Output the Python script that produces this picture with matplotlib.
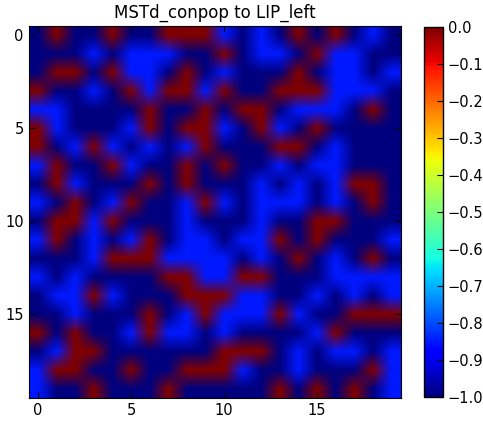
import numpy as np
import matplotlib
matplotlib.use('Agg')
import matplotlib.pyplot as plt

# niveis de peso: N = azul escuro, B = azul, R = vermelho
N, B, R = -1.0, -0.85, 0.0

titulo = 'MSTd_conpop to LIP_left'

linhas = [
    "NRNNRNNRRRBNBNRNRNBN",
    "NNNBNBBBNNRNBBNRBBNN",
    "NRRNRBBNRNBNNNRNBBNB",
    "RNNBNRBRRBRNNRRRBBBN",
    "BBNNNNRNNRNRRNBBBNRN",
    "RBNNNBRNRRBNRBNRNNNN",
    "RNBRBNBNBRNNNRRNBNNN",
    "BRNNRBNNRNRNNBNBBNNN",
    "NRBNNNRNRNNNBNBNBRRN",
    "BNRNBRNNBRBNBBBNBNRN",
    "NRRBRNNNBNNNBNNRRNNN",
    "BRNBNBRNBBNBBRNRNNNB",
    "NNNBRRRBBBBNBNRNBNRN",
    "BNBNNNNRRBBRRNNNBBBB",
    "NBBRBNNNRRRBBNNBNBNB",
    "NNBNNNRNBRBBBRBNNRRR",
    "RNRNNBRBBNBNNNNBRNNN",
    "NBRRNNNNNNRRRNBNBBNB",
    "BRRNNRNNRRRBNNBNNNRB",
    "BNNRNNNRNNNNNRNRNRNB",
]
niveis = {'N': N, 'B': B, 'R': R}
dados = np.array([[niveis[c] for c in linha] for linha in linhas])

cbar_ticks = np.arange(-1.0, 0.01, 0.1)

fig = plt.figure(figsize=(4.83, 4.21), dpi=100)
ax = fig.add_axes([28.7 / 483, 23.3 / 421, 372 / 483, 372 / 421])
img = ax.imshow(dados, cmap='jet', vmin=-1, vmax=0,
                interpolation='bilinear', interpolation_stage='rgba')
ax.set_title(titulo, fontsize=12)
ax.set_xticks([0, 5, 10, 15])
ax.set_yticks([0, 5, 10, 15])
ax.tick_params(direction='in', top=True, right=True, labelsize=10.5, length=4)

cax = fig.add_axes([424 / 483, 24 / 421, 19 / 483, 370 / 421])
cb = fig.colorbar(img, cax=cax, ticks=cbar_ticks)
cb.ax.tick_params(direction='in', labelsize=10.5, length=4)
cb.outline.set_linewidth(1)

fig.savefig('out.png', dpi=100)
